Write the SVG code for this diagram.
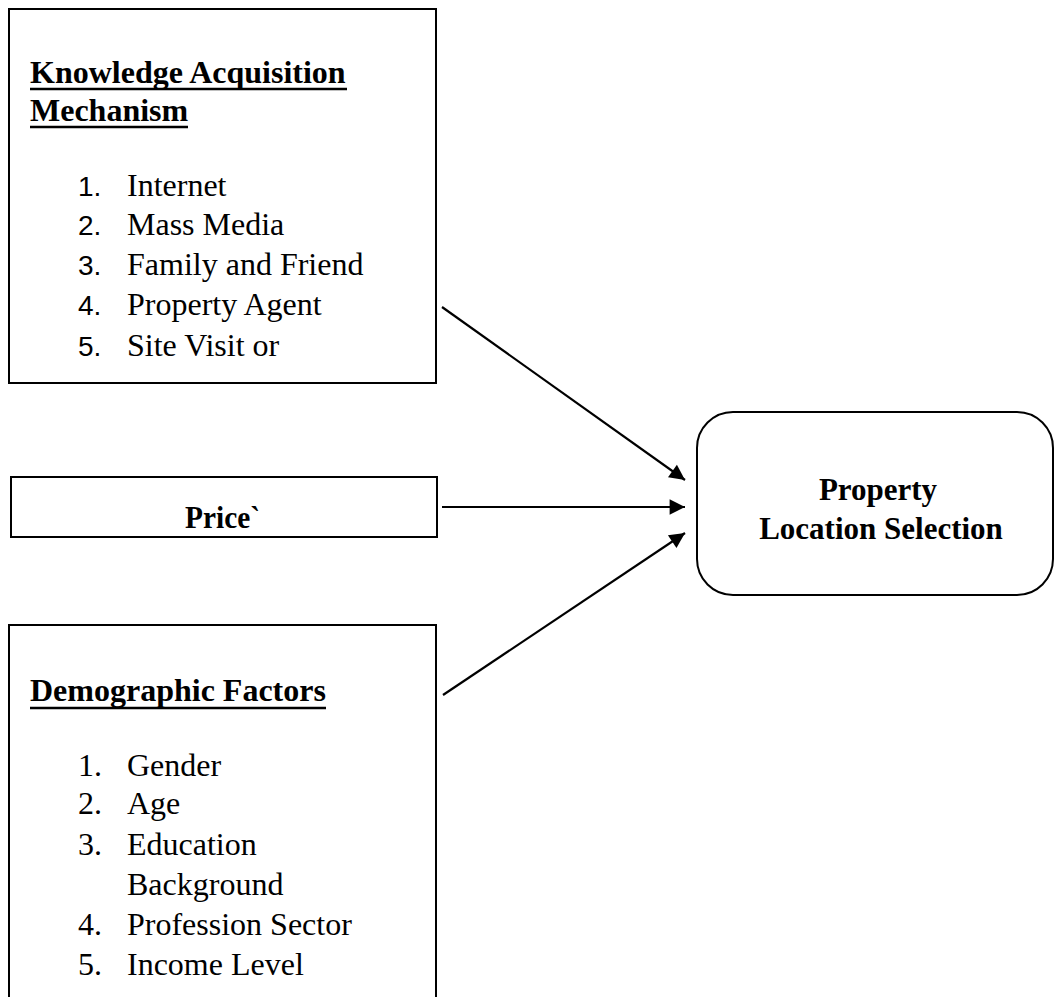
<svg xmlns="http://www.w3.org/2000/svg" width="1055" height="997" viewBox="0 0 1055 997">
<style>
.box{fill:#fff;stroke:#000;stroke-width:2}
.h{font-family:"Liberation Serif","Times New Roman",serif;font-weight:bold;font-size:32px;fill:#000}
.t{font-family:"Liberation Serif","Times New Roman",serif;font-size:32px;fill:#000}
.n{font-family:"Liberation Sans",Arial,sans-serif;font-size:28px;fill:#000}
.u{stroke:#000;stroke-width:2.5}
.c{stroke:#000;stroke-width:2.2;fill:none}
</style>
<defs>
<marker id="ah" viewBox="0 0 10 10" refX="10" refY="5" markerWidth="7.5" markerHeight="7" markerUnits="strokeWidth" orient="auto">
<path d="M0,0 L10,5 L0,10 z" fill="#000"/>
</marker>
</defs>
<rect width="1055" height="997" fill="#fff"/>
<g id="knowledge">
<rect class="box" x="9" y="9" width="427" height="374"/>
<text class="h" x="30" y="83">Knowledge Acquisition</text>
<line class="u" x1="30" y1="89" x2="347" y2="89"/>
<text class="h" x="30" y="121">Mechanism</text>
<line class="u" x1="30" y1="127" x2="188" y2="127"/>
<text class="n" x="78" y="196">1.</text><text class="t" x="127" y="196">Internet</text>
<text class="n" x="78" y="235">2.</text><text class="t" x="127" y="235">Mass Media</text>
<text class="n" x="78" y="275">3.</text><text class="t" x="127" y="275">Family and Friend</text>
<text class="n" x="78" y="315">4.</text><text class="t" x="127" y="315">Property Agent</text>
<text class="n" x="78" y="356">5.</text><text class="t" x="127" y="356">Site Visit or</text>
</g>
<g id="price">
<rect class="box" x="11" y="477" width="426" height="60"/>
<text class="h" x="185" y="528" textLength="75" lengthAdjust="spacingAndGlyphs">Price`</text>
</g>
<g id="demographic">
<path class="box" d="M9,998 V625 H436 V998"/>
<text class="h" x="30" y="701">Demographic Factors</text>
<line class="u" x1="30" y1="708" x2="326" y2="708"/>
<text class="t" x="78" y="776">1.</text><text class="t" x="127" y="776">Gender</text>
<text class="t" x="78" y="814">2.</text><text class="t" x="127" y="814">Age</text>
<text class="t" x="78" y="855">3.</text><text class="t" x="127" y="855">Education</text>
<text class="t" x="127" y="895">Background</text>
<text class="t" x="78" y="935">4.</text><text class="t" x="127" y="935">Profession Sector</text>
<text class="t" x="78" y="975">5.</text><text class="t" x="127" y="975">Income Level</text>
</g>
<g id="property">
<rect class="box" x="697" y="412" width="356" height="183" rx="36" ry="36"/>
<text class="h" x="878" y="500" text-anchor="middle" style="font-size:31px">Property</text>
<text class="h" x="881" y="539" text-anchor="middle" style="font-size:31px">Location Selection</text>
</g>
<g id="connectors">
<line class="c" x1="442" y1="307" x2="685" y2="480" marker-end="url(#ah)"/>
<line class="c" x1="442" y1="507" x2="685" y2="507" marker-end="url(#ah)"/>
<line class="c" x1="443" y1="695" x2="685" y2="533" marker-end="url(#ah)"/>
</g>
</svg>
